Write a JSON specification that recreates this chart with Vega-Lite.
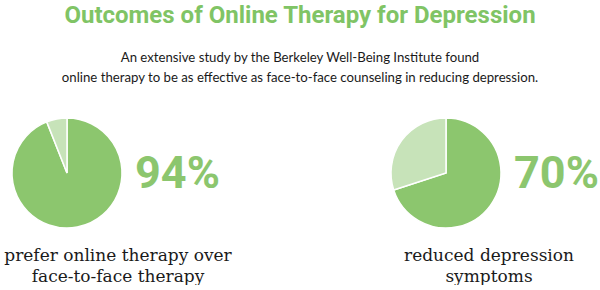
{
  "$schema": "https://vega.github.io/schema/vega-lite/v6.json",
  "width": 600,
  "height": 166,
  "padding": {"top": 3, "left": 0, "right": 0, "bottom": 0},
  "background": "white",
  "title": {
    "text": "Outcomes of Online Therapy for Depression",
    "subtitle": [
      "An extensive study by the Berkeley Well-Being Institute found",
      "online therapy to be as effective as face-to-face counseling in reducing depression."
    ],
    "anchor": "middle",
    "font": "Roboto",
    "fontSize": 24,
    "fontWeight": "bold",
    "color": "#80c465",
    "subtitleFont": "Lato",
    "subtitleFontSize": 13.2,
    "subtitleColor": "#1a1a1a",
    "subtitleLineHeight": 20,
    "subtitlePadding": 24,
    "offset": 6
  },
  "datasets": {
    "slices": [
      {"panel": "a", "part": "share", "value": 0.94},
      {"panel": "a", "part": "rest", "value": 0.06},
      {"panel": "b", "part": "share", "value": 0.70},
      {"panel": "b", "part": "rest", "value": 0.30}
    ],
    "captions": [
      {"panel": "a", "caption": "prefer online therapy over\nface-to-face therapy"},
      {"panel": "b", "caption": "reduced depression\nsymptoms"}
    ]
  },
  "config": {"view": {"stroke": null}},
  "layer": [
    {
      "data": {"name": "slices"},
      "transform": [
        {"stack": "value", "groupby": ["panel"], "sort": [{"field": "part", "order": "descending"}], "as": ["v0", "v1"]}
      ],
      "mark": {"type": "arc", "radius": 55, "stroke": "white", "strokeWidth": 1.5},
      "encoding": {
        "x": {"field": "panel", "type": "nominal", "axis": null,
              "scale": {"type": "point", "range": [67, 446], "padding": 0}},
        "theta": {"field": "v0", "type": "quantitative", "scale": {"domain": [0, 1]}},
        "theta2": {"field": "v1"},
        "color": {"field": "part", "type": "nominal", "legend": null,
                  "scale": {"domain": ["share", "rest"], "range": ["#8cc66e", "#c7e3b9"]}}
      }
    },
    {
      "data": {"name": "slices"},
      "transform": [{"filter": "datum.part === 'share'"}],
      "mark": {"type": "text", "align": "left", "baseline": "middle", "dx": 68, "dy": 1,
               "font": "Roboto", "fontSize": 45, "fontWeight": "bold", "color": "#8cc66e"},
      "encoding": {
        "x": {"field": "panel", "type": "nominal", "axis": null},
        "text": {"field": "value", "type": "quantitative", "format": ".0%"}
      }
    },
    {
      "data": {"name": "captions"},
      "transform": [{"filter": "datum.panel === 'a'"}],
      "mark": {"type": "text", "align": "center", "baseline": "middle", "dx": 51, "dy": 83,
               "lineBreak": "\n", "lineHeight": 21,
               "font": "DejaVu Serif", "fontSize": 17, "color": "#1a1a1a"},
      "encoding": {
        "x": {"field": "panel", "type": "nominal", "axis": null},
        "text": {"field": "caption", "type": "nominal"}
      }
    },
    {
      "data": {"name": "captions"},
      "transform": [{"filter": "datum.panel === 'b'"}],
      "mark": {"type": "text", "align": "center", "baseline": "middle", "dx": 43, "dy": 83,
               "lineBreak": "\n", "lineHeight": 21,
               "font": "DejaVu Serif", "fontSize": 17, "color": "#1a1a1a"},
      "encoding": {
        "x": {"field": "panel", "type": "nominal", "axis": null},
        "text": {"field": "caption", "type": "nominal"}
      }
    }
  ]
}
